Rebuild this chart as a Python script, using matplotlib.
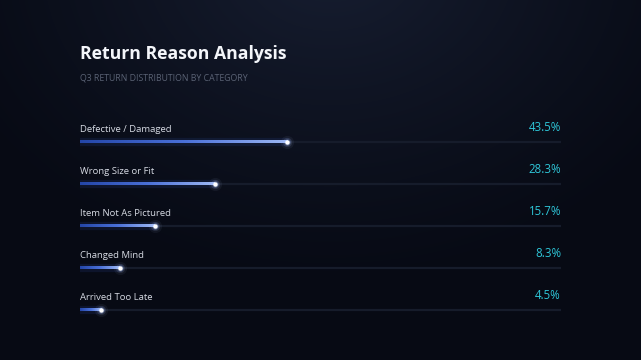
import matplotlib.pyplot as plt
import numpy as np
from matplotlib.colors import LinearSegmentedColormap

categories = ['Defective / Damaged', 'Wrong Size or Fit', 'Item Not As Pictured',
              'Changed Mind', 'Arrived Too Late']
values = [43.5, 28.3, 15.7, 8.3, 4.5]
value_labels = ['43.5%', '28.3%', '15.7%', '8.3%', '4.5%']

title = 'Return Reason Analysis'
subtitle = 'Q3 RETURN DISTRIBUTION BY CATEGORY'

W, H = 641, 360
plt.rcParams['font.family'] = ['Open Sans', 'Noto Sans', 'DejaVu Sans']

fig = plt.figure(figsize=(W / 100, H / 100), dpi=100)

# background: dark navy with a soft light spot near the top
bg = fig.add_axes([0, 0, 1, 1])
yy, xx = np.mgrid[0:H, 0:W]
d = np.sqrt(((xx - 330) / 420) ** 2 + ((yy + 40) / 330) ** 2)
t = np.clip(1 - d, 0, 1)
dark = np.array([0x07, 0x0a, 0x14]) / 255
light = np.array([0x17, 0x1e, 0x31]) / 255
img = dark[None, None, :] + (light - dark)[None, None, :] * t[..., None] ** 1.2
bg.imshow(img, extent=[0, W, H, 0], aspect='auto', interpolation='bilinear')
bg.set_xlim(0, W)
bg.set_ylim(H, 0)
bg.axis('off')

bg.text(80, 54, title, color='#f4f6fa', fontsize=12.7, fontweight='bold', va='center', ha='left')
bg.text(80, 78, subtitle, color='#5a6274', fontsize=6.3, va='center', ha='left')

# bar area
ax = fig.add_axes([80 / W, 1 - 331 / H, (561 - 80) / W, (331 - 100) / H])
ax.set_xlim(0, 101)
ax.set_ylim(5.5, 0)
ax.axis('off')
ax.patch.set_alpha(0)

cmap = LinearSegmentedColormap.from_list('bar', ['#2446a8', '#4a70d8', '#9db8f5'])
grad = np.linspace(0, 1, 256)[None, :]

for i, (cat, val, lab) in enumerate(zip(categories, values, value_labels)):
    y = i + 1
    # track
    ax.plot([0, 101], [y, y], color='#161c2b', lw=1.6, solid_capstyle='butt', zorder=1)
    # glow under bar
    ax.plot([0, val], [y, y], color='#3a63d8', lw=6, alpha=0.12, solid_capstyle='round', zorder=2)
    # gradient bar
    ax.imshow(grad, cmap=cmap, extent=[0, val, y + 0.035, y - 0.035], aspect='auto',
              interpolation='bilinear', zorder=3)
    # glowing end dot
    for s, a in [(90, 0.06), (45, 0.12), (20, 0.3)]:
        ax.scatter([val], [y], s=s, color='#bcd0ff', alpha=a, linewidths=0, zorder=4)
    ax.scatter([val], [y], s=10, color='white', linewidths=0, zorder=5)
    # labels
    ax.text(0, y - 0.3, cat, color='#d6dae3', fontsize=6.8, va='center', ha='left')
    ax.text(101, y - 0.35, lab, color='#2ec6d8', fontsize=8.3, va='center', ha='right')

ax.set_ylim(5.5, 0)
ax.set_xlim(0, 101)

fig.savefig('out.png', dpi=100, facecolor='#0a0e19')
